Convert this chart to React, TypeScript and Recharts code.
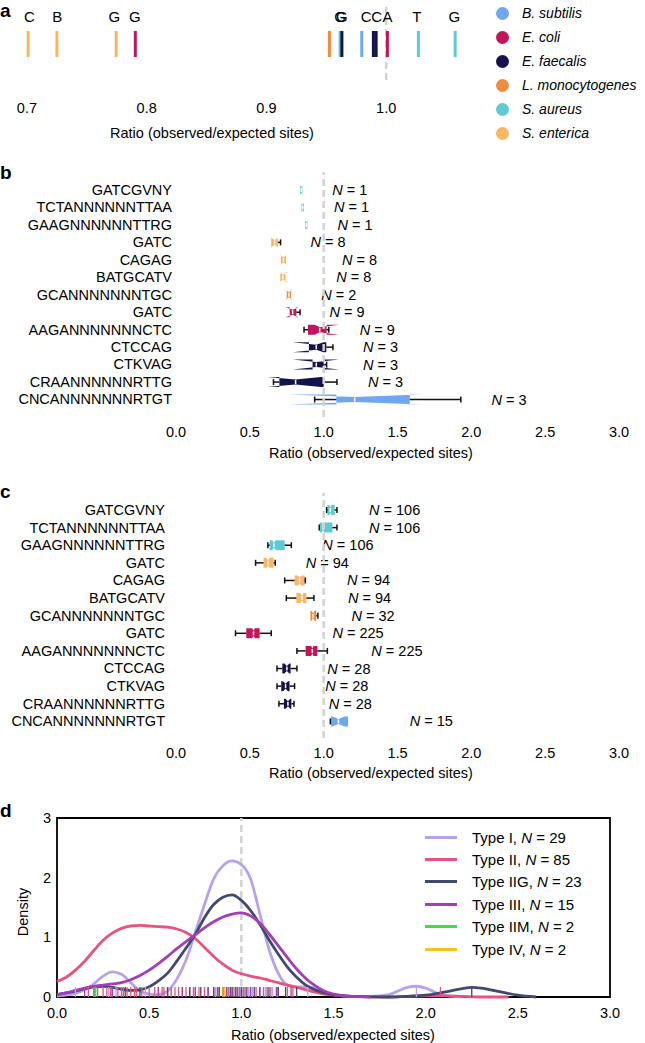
import React from "react";
import {
  ComposedChart,
  ScatterChart,
  Scatter,
  Bar,
  Line,
  XAxis,
  YAxis,
  ReferenceLine,
  ReferenceArea,
} from "recharts";

const FONT = '"Liberation Sans", Arial, Helvetica, sans-serif';

// species (legend of panel a, colours of panels a-c)
const species = ["B. subtilis", "E. coli", "E. faecalis", "L. monocytogenes", "S. aureus", "S. enterica"];
const speciesColors = ["#6fa7f2", "#c4145a", "#13134b", "#f08c3c", "#5ccbd2", "#f9b664"];

// panel a: one tick per motif
const siteSpecies = [5, 5, 5, 1, 3, 4, 2, 0, 2, 2, 1, 4, 4];
const siteRatio = [0.701, 0.725, 0.7745, 0.7905, 0.9526, 0.9615, 0.963, 0.9796, 0.9893, 0.9916, 1.001, 1.0269, 1.0576];
const siteLetters = ["C", "B", "G", "G", "G", "G", "C", "C", "A", "T", "G"];
const letterRatio = [0.702, 0.7253, 0.773, 0.79, 0.9615, 0.963, 0.9832, 0.992, 1.001, 1.0255, 1.057];

// panels b/c: motifs
const motifs = [
  "GATCGVNY",
  "TCTANNNNNNTTAA",
  "GAAGNNNNNNTTRG",
  "GATC",
  "CAGAG",
  "BATGCATV",
  "GCANNNNNNNTGC",
  "GATC",
  "AAGANNNNNNNCTC",
  "CTCCAG",
  "CTKVAG",
  "CRAANNNNNNRTTG",
  "CNCANNNNNNNRTGT",
];
const motifSpecies = [4, 4, 4, 5, 5, 5, 3, 1, 1, 2, 2, 2, 0];

// panel b (per-genome ratios)
const bQ1 = [0.84, 0.85, 0.874, 0.645, 0.71, 0.706, 0.75, 0.77, 0.894, 0.9, 0.925, 0.7, 1.086];
const bMed = [0.848, 0.858, 0.882, 0.668, 0.728, 0.724, 0.765, 0.79, 0.973, 0.95, 0.95, 0.81, 1.21];
const bQ3 = [0.856, 0.866, 0.89, 0.69, 0.745, 0.742, 0.78, 0.815, 1.02, 1.018, 1.0, 1.0, 1.583];
const bNotchLo = [0.84, 0.85, 0.874, 0.642, 0.705, 0.7, 0.742, 0.742, 0.94, 0.79, 0.79, 0.618, 0.763];
const bNotchHi = [0.856, 0.866, 0.89, 0.694, 0.751, 0.758, 0.788, 0.83, 1.104, 1.0, 1.104, 0.98, 1.658];
const bWhiskLo = [0.848, 0.858, 0.882, 0.645, 0.71, 0.706, 0.75, 0.77, 0.867, 0.9, 0.925, 0.66, 0.939];
const bWhiskHi = [0.848, 0.858, 0.882, 0.708, 0.745, 0.742, 0.78, 0.84, 1.035, 1.063, 1.02, 1.09, 1.929];
const bN = [1, 1, 1, 8, 8, 8, 2, 9, 9, 3, 3, 3, 3];
const bLabelAt = [1.058, 1.07, 1.093, 0.91, 1.124, 1.086, 0.984, 1.04, 1.244, 1.267, 1.267, 1.3, 2.137];

// panel c
const cQ1 = [1.025, 0.973, 0.634, 0.593, 0.803, 0.815, 0.91, 0.476, 0.878, 0.72, 0.713, 0.731, 1.05];
const cMed = [1.045, 0.995, 0.663, 0.623, 0.837, 0.853, 0.928, 0.525, 0.923, 0.751, 0.742, 0.758, 1.1];
const cQ3 = [1.075, 1.059, 0.736, 0.661, 0.871, 0.883, 0.95, 0.566, 0.957, 0.776, 0.769, 0.781, 1.165];
const cNotchLo = [1.038, 0.986, 0.65, 0.612, 0.826, 0.842, 0.917, 0.516, 0.915, 0.734, 0.725, 0.742, 1.06];
const cNotchHi = [1.052, 1.004, 0.676, 0.634, 0.848, 0.864, 0.939, 0.534, 0.931, 0.768, 0.759, 0.774, 1.14];
const cWhiskLo = [1.02, 0.97, 0.622, 0.539, 0.736, 0.747, 0.91, 0.403, 0.819, 0.684, 0.684, 0.697, 1.045];
const cWhiskHi = [1.09, 1.09, 0.781, 0.672, 0.876, 0.934, 0.961, 0.645, 1.025, 0.819, 0.803, 0.799, 1.165];
const cN = [106, 106, 106, 94, 94, 94, 32, 225, 225, 28, 28, 28, 15];
const cLabelAt = [1.307, 1.307, 0.991, 0.878, 1.158, 1.165, 1.188, 1.059, 1.323, 1.025, 1.011, 1.034, 1.583];

const DOMAIN: [number, number] = [0, 3];
const RATIO_TICKS = [0, 0.5, 1, 1.5, 2, 2.5, 3];

// panel d: densities
const types = ["Type I", "Type II", "Type IIG", "Type III", "Type IIM", "Type IV"];
const typeN = [29, 85, 23, 15, 2, 2];
const typeColors = ["#b7a2ee", "#e9527c", "#404a6d", "#a43db8", "#38e33c", "#f6c21a"];

const densX1 = [0, 0.1, 0.2, 0.25, 0.3, 0.35, 0.4, 0.45, 0.5, 0.55, 0.6, 0.65, 0.7, 0.75, 0.8, 0.85, 0.9, 0.95, 1.0, 1.05, 1.1, 1.15, 1.2, 1.25, 1.3, 1.35, 1.4, 1.45, 1.5, 1.6, 1.7, 1.8, 1.85, 1.9, 1.95, 2.0, 2.05, 2.1, 2.2];
const densY1 = [0.02, 0.06, 0.22, 0.35, 0.42, 0.38, 0.24, 0.1, 0.05, 0.04, 0.1, 0.3, 0.62, 1.08, 1.55, 1.98, 2.2, 2.28, 2.22, 1.98, 1.4, 0.8, 0.4, 0.2, 0.17, 0.17, 0.15, 0.09, 0.04, 0.01, 0.01, 0.04, 0.1, 0.16, 0.18, 0.15, 0.08, 0.03, 0.0];
const densX2 = [0, 0.05, 0.1, 0.15, 0.2, 0.25, 0.3, 0.35, 0.4, 0.45, 0.5, 0.55, 0.6, 0.65, 0.7, 0.75, 0.8, 0.85, 0.9, 0.95, 1.0, 1.05, 1.1, 1.15, 1.2, 1.25, 1.3, 1.35, 1.4, 1.45, 1.5, 1.6, 1.8, 1.9, 2.0, 2.1, 2.2, 2.3, 2.45];
const densY2 = [0.26, 0.33, 0.45, 0.6, 0.78, 0.95, 1.07, 1.15, 1.19, 1.2, 1.19, 1.18, 1.17, 1.14, 1.08, 0.98, 0.83, 0.68, 0.55, 0.45, 0.39, 0.35, 0.32, 0.28, 0.24, 0.2, 0.16, 0.12, 0.08, 0.05, 0.03, 0.01, 0.0, 0.01, 0.02, 0.02, 0.01, 0.0, 0.0];
const densX3 = [0, 0.05, 0.1, 0.15, 0.2, 0.25, 0.3, 0.35, 0.4, 0.45, 0.5, 0.55, 0.6, 0.65, 0.7, 0.75, 0.8, 0.85, 0.9, 0.95, 1.0, 1.05, 1.1, 1.15, 1.2, 1.25, 1.3, 1.35, 1.4, 1.45, 1.5, 1.6, 1.8, 1.9, 2.0, 2.1, 2.2, 2.25, 2.3, 2.4, 2.5, 2.6];
const densY3 = [0.04, 0.07, 0.1, 0.14, 0.17, 0.18, 0.16, 0.13, 0.11, 0.12, 0.17, 0.27, 0.4, 0.6, 0.82, 1.05, 1.33, 1.55, 1.67, 1.71, 1.62, 1.45, 1.22, 0.96, 0.72, 0.5, 0.33, 0.2, 0.12, 0.07, 0.04, 0.01, 0.0, 0.01, 0.03, 0.08, 0.14, 0.16, 0.15, 0.09, 0.03, 0.0];
const densX4 = [0, 0.05, 0.1, 0.15, 0.2, 0.25, 0.3, 0.35, 0.4, 0.45, 0.5, 0.55, 0.6, 0.65, 0.7, 0.75, 0.8, 0.85, 0.9, 0.95, 1.0, 1.05, 1.1, 1.15, 1.2, 1.25, 1.3, 1.35, 1.4, 1.45, 1.5, 1.6, 1.7];
const densY4 = [0.04, 0.07, 0.11, 0.15, 0.18, 0.2, 0.22, 0.24, 0.29, 0.36, 0.45, 0.56, 0.68, 0.81, 0.93, 1.04, 1.16, 1.26, 1.34, 1.39, 1.41, 1.36, 1.24, 1.06, 0.86, 0.66, 0.47, 0.31, 0.19, 0.1, 0.05, 0.01, 0.0];

// rug values per type
const rug1 = [0.1, 0.28, 0.3, 0.32, 0.35, 0.48, 0.62, 0.75, 0.82, 0.86, 0.9, 0.93, 0.95, 0.97, 0.98, 1.0, 1.02, 1.04, 1.06, 1.1, 1.13, 1.17, 1.2, 1.36, 1.95];
const rug2 = [0.17, 0.2, 0.22, 0.25, 0.27, 0.29, 0.3, 0.33, 0.35, 0.36, 0.38, 0.4, 0.42, 0.43, 0.46, 0.5, 0.53, 0.55, 0.57, 0.58, 0.6, 0.62, 0.64, 0.66, 0.68, 0.7, 0.72, 0.74, 0.77, 0.8, 0.82, 0.85, 0.88, 0.9, 0.93, 0.96, 0.99, 1.02, 1.05, 1.08, 1.12, 1.16, 1.2, 1.25, 1.28, 2.08];
const rug3 = [0.2, 0.37, 0.45, 0.6, 0.72, 0.78, 0.85, 0.88, 0.9, 0.92, 0.94, 0.95, 0.97, 1.0, 1.03, 1.07, 1.1, 1.15, 1.2, 1.24, 1.3, 2.25];
const rug4 = [0.15, 0.3, 0.55, 0.68, 0.75, 0.82, 0.87, 0.92, 0.98, 1.01, 1.05, 1.1, 1.14, 1.19, 1.27];
const rug5 = [0.2, 0.21];
const rug6 = [0.9, 0.91];

const TICK = { fill: "#000", fontSize: 14.5, fontFamily: FONT };
const TITLE = "Ratio (observed/expected sites)";

const sitePoints = siteRatio.map((v, i) => ({ v, y: 0, color: speciesColors[siteSpecies[i]] }));
const letterPoints = letterRatio.map((v, i) => ({ v, y: 0, letter: siteLetters[i] }));

const densities = [
  densX1.map((v, i) => ({ v, d: densY1[i] })),
  densX2.map((v, i) => ({ v, d: densY2[i] })),
  densX3.map((v, i) => ({ v, d: densY3[i] })),
  densX4.map((v, i) => ({ v, d: densY4[i] })),
];
const rugs = [rug1, rug2, rug3, rug4, rug5, rug6].map((vals, t) =>
  vals.map((v) => ({ v, d: 0, color: typeColors[t] }))
);

const siteShape = (p: any) => (
  <line x1={p.cx} x2={p.cx} y1={p.cy - 49} y2={p.cy - 23} stroke={p.payload.color} strokeWidth={3} />
);
const letterShape = (p: any) => (
  <text x={p.cx} y={p.cy - 64} textAnchor="middle" dominantBaseline="central" fontSize={15} fontFamily={FONT}>
    {p.payload.letter}
  </text>
);
const rugShape = (p: any) => (
  <line x1={p.cx} x2={p.cx} y1={p.cy} y2={p.cy - 10} stroke={p.payload.color} strokeWidth={1.3} />
);

const boxShape = (props: any) => {
  const { x, y, width, height, payload: r } = props;
  const px = (v: number) => x + ((v - DOMAIN[0]) * width) / (DOMAIN[1] - DOMAIN[0]);
  const cy = y + height / 2;
  const h = height / 2;
  const k = h * 0.5;
  const pts = [
    [px(r.q1), cy - h],
    [px(r.nLo), cy - h],
    [px(r.med), cy - h + k],
    [px(r.nHi), cy - h],
    [px(r.q3), cy - h],
    [px(r.q3), cy + h],
    [px(r.nHi), cy + h],
    [px(r.med), cy + h - k],
    [px(r.nLo), cy + h],
    [px(r.q1), cy + h],
  ]
    .map((p) => p.join(","))
    .join(" ");
  return (
    <g>
      <polygon points={pts} fill={r.color} />
      <line x1={px(r.med)} x2={px(r.med)} y1={cy - h + k + 0.5} y2={cy + h - k - 0.5} stroke="#fff" strokeWidth={1.5} />
      {r.wLo < r.q1 && (
        <g stroke="#111" strokeWidth={1.5}>
          <line x1={px(r.wLo)} x2={px(r.q1)} y1={cy} y2={cy} />
          <line x1={px(r.wLo)} x2={px(r.wLo)} y1={cy - 3} y2={cy + 3} />
        </g>
      )}
      {r.wHi > r.q3 && (
        <g stroke="#111" strokeWidth={1.5}>
          <line x1={px(r.q3)} x2={px(r.wHi)} y1={cy} y2={cy} />
          <line x1={px(r.wHi)} x2={px(r.wHi)} y1={cy - 3} y2={cy + 3} />
        </g>
      )}
      <text x={px(r.labelAt)} y={cy} dominantBaseline="central" fontSize={14.5} fontFamily={FONT}>
        <tspan fontStyle="italic">N</tspan>
        {` = ${r.n}`}
      </text>
    </g>
  );
};

function BoxPanel({ rows, labelGap, top, pad }: any) {
  return (
    <div style={{ position: "absolute", left: 0, top }}>
      <ComposedChart layout="vertical" width={645} height={297} data={rows} margin={{ top: 22, right: 26, bottom: 0, left: 0 }}>
        <XAxis
          type="number"
          domain={DOMAIN}
          ticks={RATIO_TICKS}
          tickFormatter={(v: number) => v.toFixed(1)}
          axisLine={false}
          tickLine={false}
          tickSize={0}
          tickMargin={10}
          height={30}
          tick={TICK}
        />
        <YAxis
          type="category"
          dataKey="key"
          width={176}
          tickFormatter={(v: string) => motifs[Number(v)]}
          axisLine={false}
          tickLine={false}
          tickSize={0}
          tickMargin={labelGap}
          padding={{ top: pad, bottom: pad }}
          interval={0}
          tick={TICK}
        />
        <ReferenceLine x={1} stroke="#d2d2d2" strokeWidth={2.5} strokeDasharray="7 4" />
        <Bar dataKey="span" barSize={10} shape={boxShape} isAnimationActive={false} />
      </ComposedChart>
    </div>
  );
}

const makeRows = (q1: number[], med: number[], q3: number[], nLo: number[], nHi: number[], wLo: number[], wHi: number[], n: number[], at: number[]) =>
  motifs.map((m, i) => ({
    key: String(i),
    motif: m,
    span: DOMAIN,
    q1: q1[i],
    med: med[i],
    q3: q3[i],
    nLo: nLo[i],
    nHi: nHi[i],
    wLo: wLo[i],
    wHi: wHi[i],
    n: n[i],
    labelAt: at[i],
    color: speciesColors[motifSpecies[i]],
  }));

const bRows = makeRows(bQ1, bMed, bQ3, bNotchLo, bNotchHi, bWhiskLo, bWhiskHi, bN, bLabelAt);
const cRows = makeRows(cQ1, cMed, cQ3, cNotchLo, cNotchHi, cWhiskLo, cWhiskHi, cN, cLabelAt);

const Title = ({ x, y, text }: any) => (
  <div style={{ position: "absolute", left: x - 200, top: y - 9, width: 400, textAlign: "center", fontSize: 14.5, lineHeight: "18px" }}>
    {text}
  </div>
);
const PanelLetter = ({ y, text }: any) => (
  <div style={{ position: "absolute", left: 0, top: y - 11, fontSize: 19, fontWeight: "bold", lineHeight: "22px" }}>{text}</div>
);

export default function App() {
  return (
    <div style={{ position: "absolute", left: 0, top: 0, width: 645, height: 1043, background: "#fff", fontFamily: FONT, color: "#000", overflow: "hidden" }}>
      {/* panel a */}
      <div style={{ position: "absolute", left: 0, top: 0 }}>
        <ScatterChart width={490} height={145} margin={{ top: 5, right: 8, bottom: 0, left: 3 }}>
          <XAxis
            type="number"
            dataKey="v"
            domain={[0.68, 1.08]}
            ticks={[0.7, 0.8, 0.9, 1.0]}
            tickFormatter={(v: number) => v.toFixed(1)}
            axisLine={false}
            tickLine={false}
            tickSize={0}
            tickMargin={23}
            height={65}
            tick={TICK}
            allowDataOverflow
          />
          <YAxis type="number" dataKey="y" domain={[0, 1]} hide />
          <ReferenceLine x={1} stroke="#d2d2d2" strokeWidth={2.5} strokeDasharray="7 4" />
          <Scatter data={sitePoints} shape={siteShape} isAnimationActive={false} />
          <Scatter data={letterPoints} shape={letterShape} isAnimationActive={false} />
        </ScatterChart>
      </div>
      <Title x={212} y={133} text={TITLE} />
      {species.map((s, i) => (
        <div key={s} style={{ position: "absolute", left: 496, top: 13 + i * 24 - 9, height: 18, display: "flex", alignItems: "center" }}>
          <span style={{ width: 13, height: 13, borderRadius: 7, background: speciesColors[i], display: "inline-block", flex: "none" }} />
          <span style={{ marginLeft: 13, fontStyle: "italic", fontSize: 14, whiteSpace: "nowrap" }}>{s}</span>
        </div>
      ))}

      {/* panel b */}
      <BoxPanel rows={bRows} labelGap={4} top={150} pad={9} />
      <Title x={371} y={453} text={TITLE} />

      {/* panel c */}
      <BoxPanel rows={cRows} labelGap={11} top={471} pad={8} />
      <Title x={371} y={773} text={TITLE} />

      {/* panel d */}
      <div style={{ position: "absolute", left: 0, top: 800 }}>
        <ComposedChart width={645} height={243} margin={{ top: 18, right: 35, bottom: 16, left: 0 }}>
          <XAxis
            type="number"
            dataKey="v"
            domain={DOMAIN}
            ticks={RATIO_TICKS}
            tickFormatter={(v: number) => v.toFixed(1)}
            axisLine={false}
            tickLine={false}
            tickSize={0}
            tickMargin={11}
            height={30}
            tick={TICK}
          />
          <YAxis
            type="number"
            dataKey="d"
            domain={[0, 3]}
            ticks={[0, 1, 2, 3]}
            width={57}
            axisLine={false}
            tickLine={false}
            tickSize={0}
            tickMargin={6}
            tick={TICK}
          />
          <ReferenceArea x1={0} x2={3} y1={0} y2={3} fill="none" fillOpacity={0} stroke="#000" strokeWidth={1.8} />
          <ReferenceLine x={1} stroke="#d2d2d2" strokeWidth={2.5} strokeDasharray="7 4" />
          {rugs.map((data, t) => (
            <Scatter key={"rug" + t} data={data} dataKey="d" shape={rugShape} isAnimationActive={false} />
          ))}
          {densities.map((data, t) => (
            <Line
              key={"dens" + t}
              data={data}
              dataKey="d"
              type="monotone"
              stroke={typeColors[t]}
              strokeWidth={2.8}
              dot={false}
              isAnimationActive={false}
            />
          ))}
        </ComposedChart>
      </div>
      <Title x={333} y={1035} text={TITLE} />
      <div
        style={{ position: "absolute", left: 23 - 40, top: 912 - 9, width: 80, textAlign: "center", fontSize: 14.5, lineHeight: "18px", transform: "rotate(-90deg)" }}
      >
        Density
      </div>
      {types.map((t, i) => (
        <div key={t} style={{ position: "absolute", left: 425, top: 837 + i * 22.4 - 9, height: 18, display: "flex", alignItems: "center" }}>
          <span style={{ width: 32, height: 3, background: typeColors[i], display: "inline-block" }} />
          <span style={{ marginLeft: 15, fontSize: 15, whiteSpace: "nowrap" }}>
            {t}, <i>N</i> = {typeN[i]}
          </span>
        </div>
      ))}

      <PanelLetter y={11} text="a" />
      <PanelLetter y={173} text="b" />
      <PanelLetter y={492} text="c" />
      <PanelLetter y={811} text="d" />
    </div>
  );
}
